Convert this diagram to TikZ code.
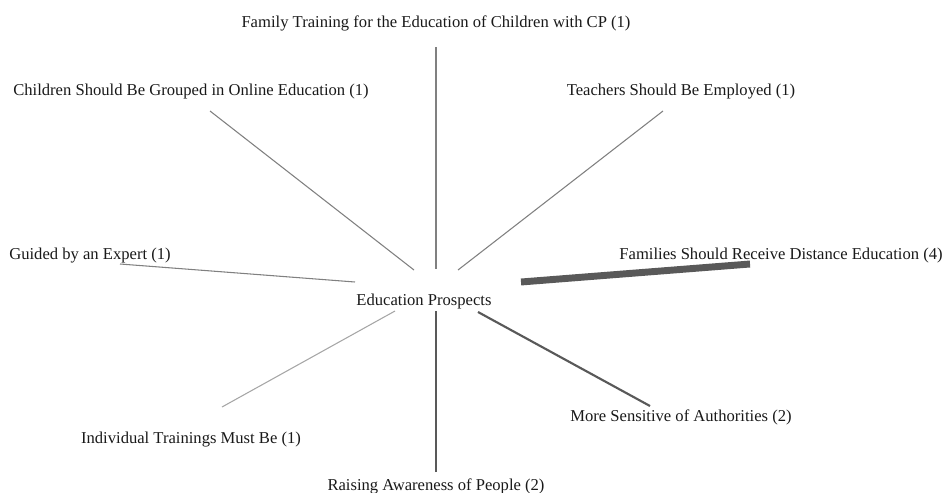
\documentclass[tikz,border=0pt]{standalone}
\usepackage{fontspec}
\setmainfont{Liberation Serif}
\tikzstyle{tema}=[anchor=base,inner sep=0pt,text=black!90,font=\fontsize{12.45}{15}\selectfont]
\tikzstyle{arista}=[draw=black!50,line width=.8pt]
\tikzstyle{aristaf}=[draw=black!35,line width=.8pt]
\tikzstyle{aristab}=[draw=black!65,line width=1.6pt]
\tikzstyle{aristac}=[draw=black!65,line width=5.2pt]

\begin{document}
\begin{tikzpicture}[x=.75pt,y=-.75pt]
\useasboundingbox (0,0) rectangle (947,493);
\node[tema] (ep)  at (424,305) {Education Prospects};
\node[tema] (fam) at (436,27)  {Family Training for the Education of Children with CP (1)};
\node[tema] (ch)  at (191,95)  {Children Should Be Grouped in Online Education (1)};
\node[tema] (te)  at (681,95)  {Teachers Should Be Employed (1)};
\node[tema] (gu)  at (90,259)  {Guided by an Expert (1)};
\node[tema] (fa)  at (781,259) {Families Should Receive Distance Education (4)};
\node[tema] (in)  at (191,443) {Individual Trainings Must Be (1)};
\node[tema] (ra)  at (436,490) {Raising Awareness of People (2)};
\node[tema] (mo)  at (681,421) {More Sensitive of Authorities (2)};
\draw[arista]  ([shift={(0,20)}]fam.base)  -- ([shift={(12,-36)}]ep.base);
\draw[arista]  ([shift={(19,16)}]ch.base)  -- ([shift={(-10,-35)}]ep.base);
\draw[arista]  ([shift={(-18,16)}]te.base) -- ([shift={(34,-35)}]ep.base);
\draw[arista]  ([shift={(30,5)}]gu.base)   -- ([shift={(-69,-23)}]ep.base);
\draw[aristac] ([shift={(-31,5)}]fa.base)  -- ([shift={(97,-23)}]ep.base);
\draw[aristaf] ([shift={(31,-36)}]in.base) -- ([shift={(-29,6)}]ep.base);
\draw[aristab] ([shift={(0,-18)}]ra.base)  -- ([shift={(12,6)}]ep.base);
\draw[aristab] ([shift={(-31,-15)}]mo.base) -- ([shift={(54,7)}]ep.base);
\end{tikzpicture}
\end{document}
